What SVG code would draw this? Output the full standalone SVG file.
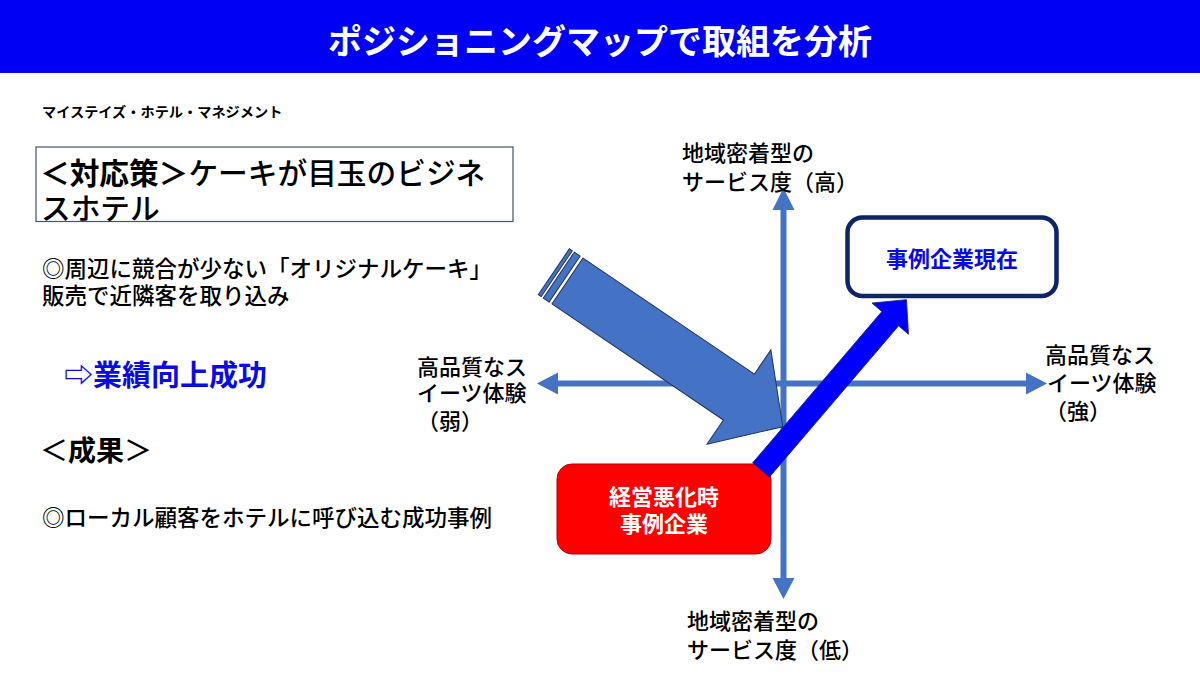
<svg xmlns="http://www.w3.org/2000/svg" width="1200" height="677" viewBox="0 0 1200 677">
<style>
text{font-family:"Noto Sans CJK JP","Noto Sans",sans-serif;fill:#000;font-weight:500}
.b{font-weight:bold}
.ax{fill:none;stroke:#4472C4;stroke-width:6}
.axh{fill:#4472C4}
.lbl{font-size:22px}
.side{font-size:22px}
.body{font-size:22.5px}
</style>
<rect x="0" y="0" width="1200" height="677" fill="#fff"/>
<g id="title">
<rect x="0" y="0" width="1200" height="73" fill="#0000F5"/>
<text x="600" y="54" text-anchor="middle" class="b" style="fill:#fff;font-size:34px">ポジショニングマップで取組を分析</text>
</g>
<g id="left-text">
<text x="42" y="117" class="b" style="font-size:14.2px">マイステイズ・ホテル・マネジメント</text>
<rect x="36" y="147" width="477" height="74.5" fill="#fff" stroke="#44546A" stroke-width="1.2"/>
<text x="40" y="184" style="font-size:29.7px"><tspan class="b">＜対応策＞</tspan>ケーキが目玉のビジネ</text>
<text x="41" y="219" style="font-size:29.7px">スホテル</text>
<text x="42" y="277" class="body">◎周辺に競合が少ない「オリジナルケーキ」</text>
<text x="42" y="304" class="body">販売で近隣客を取り込み</text>
<text x="64" y="386" class="b" style="font-size:29px;fill:#0A0AE6">⇨業績向上成功</text>
<text x="40" y="461" style="font-size:28px">＜<tspan class="b">成果</tspan>＞</text>
<text x="42" y="526" class="body">◎ローカル顧客をホテルに呼び込む成功事例</text>
</g>
<g id="axes">
<line class="ax" x1="783.5" y1="208" x2="783.5" y2="580"/>
<polygon class="axh" points="783.5,188 772.5,210 794.5,210"/>
<polygon class="axh" points="783.5,599 772.5,578 794.5,578"/>
<line class="ax" x1="556" y1="383.5" x2="1028" y2="383.5"/>
<polygon class="axh" points="537,383.5 558,372.5 558,394.5"/>
<polygon class="axh" points="1047,383.5 1026,372.5 1026,394.5"/>
</g>
<g id="axis-labels">
<text x="682" y="161" class="lbl">地域密着型の</text>
<text x="682" y="190" class="lbl">サービス度（高）</text>
<text x="687" y="629" class="lbl">地域密着型の</text>
<text x="687" y="658" class="lbl">サービス度（低）</text>
<text x="417" y="375" class="side">高品質なス</text>
<text x="417" y="401" class="side">イーツ体験</text>
<text x="417" y="429" class="side">（弱）</text>
<text x="1045" y="363" class="side">高品質なス</text>
<text x="1047" y="391" class="side">イーツ体験</text>
<text x="1045" y="419" class="side">（強）</text>
</g>
<g id="node-crisis">
<rect x="557" y="464" width="214" height="90" rx="15" fill="#FF0000" stroke="#B00000" stroke-width="1"/>
<text x="664" y="505" text-anchor="middle" class="b" style="fill:#fff;font-size:22px">経営悪化時</text>
<text x="664" y="532" text-anchor="middle" class="b" style="fill:#fff;font-size:22px">事例企業</text>
</g>
<g id="node-now">
<rect x="847.5" y="217.5" width="209" height="78.5" rx="15" fill="#fff" stroke="#0D2566" stroke-width="4.5"/>
<text x="952" y="267" text-anchor="middle" class="b" style="fill:#0A0AE6;font-size:22px">事例企業現在</text>
</g>
<g id="connectors">
<g transform="translate(567.5,281) rotate(34.1)" fill="#4472C4" stroke="#23355E" stroke-width="1">
<rect x="-16.5" y="-27.7" width="3.5" height="55.4"/>
<rect x="-10.5" y="-27.7" width="7" height="55.4"/>
<polygon points="0,-27.7 207,-27.7 207,-57 260,0 207,57 207,27.7 0,27.7"/>
</g>
<g transform="translate(761,470) rotate(-49.5)">
<polygon points="0,-11 199,-11 199,-24 224,0 199,24 199,11 0,11" fill="#0000FF" stroke="#1A237E" stroke-width="0.8"/>
</g>
</g>
</svg>
